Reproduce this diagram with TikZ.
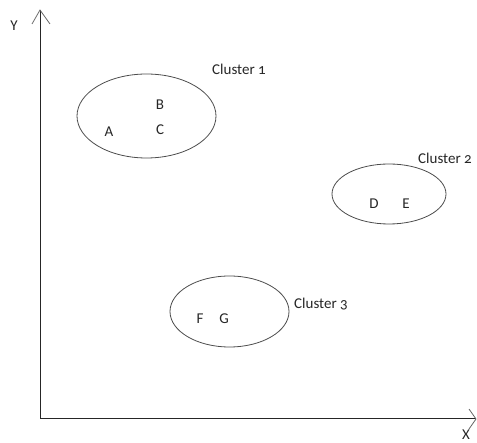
\documentclass[tikz,border=0pt]{standalone}
\usepackage{fontspec}
\setmainfont[Numbers=OldStyle]{Carlito}
\begin{document}
\begin{tikzpicture}[x=1pt,y=-1pt,
  axis/.style={draw=black!85, line width=1pt},
  tip/.style={draw=black!60, line width=0.8pt},
  cluster/.style={draw=black!70, line width=0.8pt},
  lbl/.style={font=\fontsize{15}{18}\selectfont, text=black!85, inner sep=0pt}]
  \useasboundingbox (0,0) rectangle (477,443);

  % axes
  \coordinate (o) at (40,419);
  \coordinate (ytop) at (40,10);
  \coordinate (xend) at (476,419);
  \draw[axis] (o) -- (ytop);
  \draw[axis] (o) -- (xend);
  \draw[tip] (32,24) -- (ytop) -- (50,24);
  \draw[tip] (469,409) -- (xend) -- (469,429);
  \node[lbl] (ylab) at (14,26) {Y};
  \node[lbl] (xlab) at (466,435) {X};

  % cluster 1
  \draw[cluster] (146.5,116) ellipse [x radius=69.5, y radius=42];
  \node[lbl] (b) at (160,105) {B};
  \node[lbl] (c) at (160,130) {C};
  \node[lbl] (a) at (109,132) {A};
  \node[lbl] (c1) at (239,69) {Cluster 1};

  % cluster 2
  \draw[cluster] (389,194) ellipse [x radius=57, y radius=30];
  \node[lbl] (d) at (374,204) {D};
  \node[lbl] (e) at (406,204) {E};
  \node[lbl] (c2) at (445,158) {Cluster 2};

  % cluster 3
  \draw[cluster] (229.5,311.5) ellipse [x radius=59.5, y radius=35.5];
  \node[lbl] (f) at (200,319) {F};
  \node[lbl] (g) at (224,319) {G};
  \node[lbl] (c3) at (321,304) {Cluster 3};
\end{tikzpicture}
\end{document}
